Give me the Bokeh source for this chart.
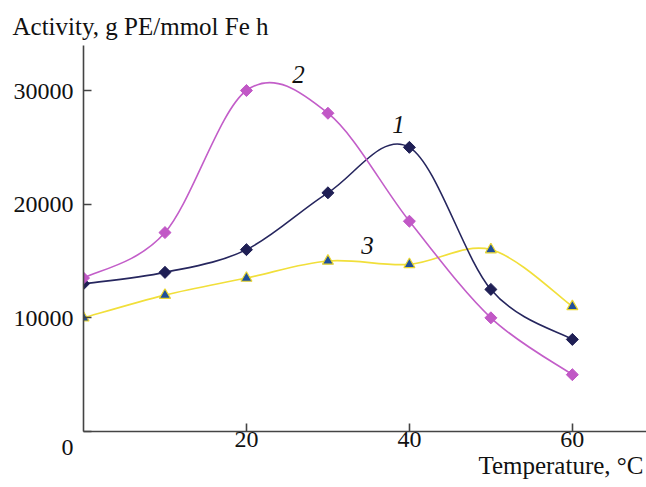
import math
from bokeh.plotting import figure
from bokeh.models import Range1d, FixedTicker, Label, Title
from bokeh.embed import file_html
from bokeh.resources import INLINE

temperature = [0, 10, 20, 30, 40, 50, 60]
activity_1 = [13000, 14000, 16000, 21000, 25000, 12500, 8100]
activity_2 = [13500, 17500, 30000, 28000, 18500, 10000, 5000]
activity_3 = [10000, 12000, 13500, 15000, 14700, 16000, 11000]
x_ticks = [20, 40, 60]
y_ticks = [0, 10000, 20000, 30000]
y_tick_labels = {0: "\u00a0\n0", 10000: "10000", 20000: "20000", 30000: "30000"}
series_names = ["1", "2", "3"]

FONT = "Liberation Serif"
XMAX = 69.1
YMAX = 33960

p = figure(width=646, height=487, output_backend="svg", toolbar_location=None,
           x_range=Range1d(0, XMAX), y_range=Range1d(0, YMAX),
           min_border_left=83, min_border_right=0, min_border_top=45, min_border_bottom=56)
p.outline_line_color = None
p.xgrid.visible = False
p.ygrid.visible = False
p.background_fill_color = "white"

p.title.text = "Activity, g PE/mmol Fe h"
p.title.align = "left"
p.title.offset = -71
p.title.text_font = FONT
p.title.text_font_size = "25px"
p.title.text_font_style = "normal"
p.title.text_color = "#111111"
p.title.standoff = 11


def smooth(xs, ys):
    n = len(xs)
    d = dict(x0=[], y0=[], x1=[], y1=[], cx0=[], cy0=[], cx1=[], cy1=[])
    for i in range(n - 1):
        a = i - 1 if i > 0 else i
        b = i + 2 if i + 2 < n else i + 1
        d["x0"].append(xs[i]); d["y0"].append(ys[i])
        d["x1"].append(xs[i + 1]); d["y1"].append(ys[i + 1])
        d["cx0"].append(xs[i] + (xs[i + 1] - xs[a]) / 6)
        d["cy0"].append(ys[i] + (ys[i + 1] - ys[a]) / 6)
        d["cx1"].append(xs[i + 1] - (xs[b] - xs[i]) / 6)
        d["cy1"].append(ys[i + 1] - (ys[b] - ys[i]) / 6)
    return d


c1 = "#26265e"
c2 = "#c35ec9"
c3 = "#f1df3a"

for ys, col in [(activity_3, c3), (activity_1, c1), (activity_2, c2)]:
    p.bezier(source=smooth(temperature, ys), x0="x0", y0="y0", x1="x1", y1="y1",
             cx0="cx0", cy0="cy0", cx1="cx1", cy1="cy1", line_color=col, line_width=1.6)

p.scatter(temperature, activity_1, marker="square", size=8.5, angle=math.pi / 4,
          fill_color="#1f1f55", line_color="#1f1f55")
p.scatter(temperature, activity_2, marker="square", size=8.5, angle=math.pi / 4,
          fill_color="#c158c6", line_color="#c158c6")
p.scatter(temperature, activity_3, marker="triangle", size=11, fill_color="#1f4f9c",
          line_color="#e8d530", line_width=1.2)

for ax in (p.xaxis[0], p.yaxis[0]):
    ax.axis_line_color = "#444444"
    ax.axis_line_width = 1.6
    ax.major_tick_line_color = "#444444"
    ax.major_tick_line_width = 1.6
    ax.major_tick_in = 8
    ax.major_tick_out = 0
    ax.minor_tick_line_color = None
    ax.major_label_text_font = FONT
    ax.major_label_text_font_size = "24px"
    ax.major_label_text_color = "#111111"

p.xaxis[0].ticker = FixedTicker(ticks=x_ticks)
p.yaxis[0].ticker = FixedTicker(ticks=y_ticks)
p.yaxis[0].major_label_overrides = y_tick_labels
p.xaxis[0].major_label_standoff = 0
p.yaxis[0].major_label_standoff = 10

xl = Title(text="Temperature, \u00b0C", align="right", text_font=FONT, text_font_size="25px",
           text_font_style="normal", text_color="#111111", offset=3, standoff=0)
p.add_layout(xl, "below")

# curve numbers
for name, lx, ly in [(series_names[0], 38.65, 26980), (series_names[1], 26.4, 31370),
                     (series_names[2], 34.85, 16340)]:
    p.add_layout(Label(x=lx, y=ly, text=name, text_align="center", text_baseline="middle",
                       text_font=FONT, text_font_style="italic", text_font_size="25px",
                       text_color="#111111"))

open("out.html", "w").write(file_html(p, INLINE))
